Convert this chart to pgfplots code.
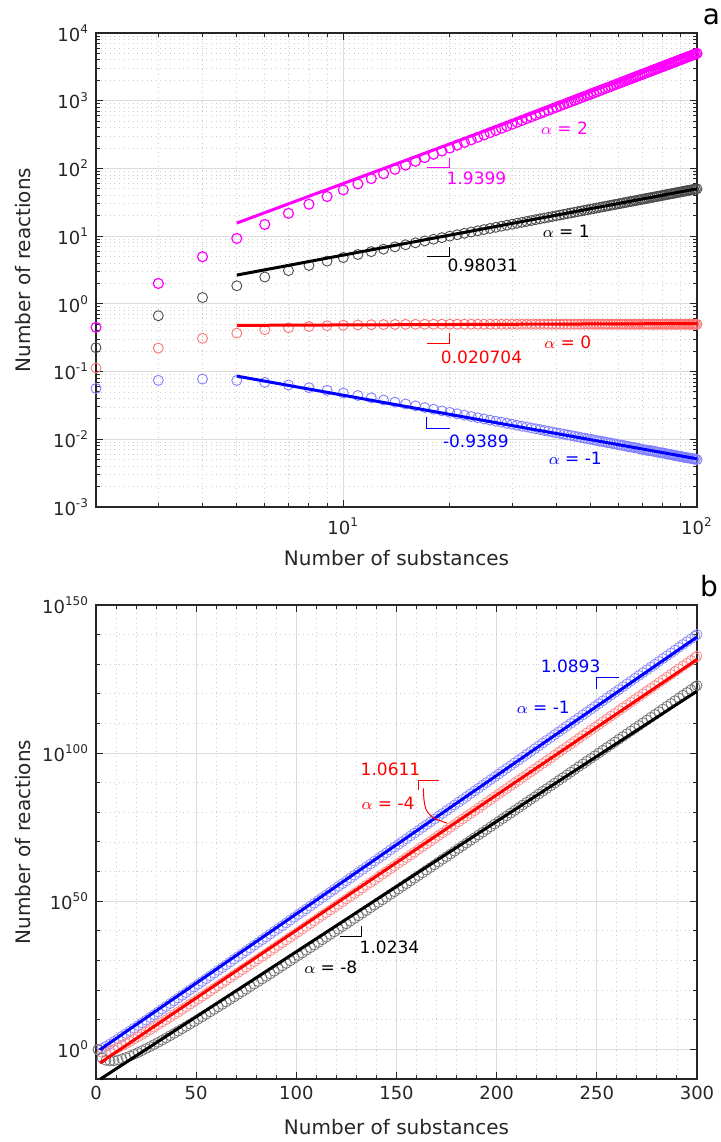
\documentclass[border=0pt]{standalone}
\usepackage{fontspec}
\setmainfont{DejaVu Sans}
\usepackage{pgfplots}
\usepackage{pgfplotstable}
\pgfplotsset{compat=1.18}

\definecolor{axcol}{HTML}{262626}
\definecolor{gridmaj}{HTML}{DCDCDC}
\definecolor{gridmin}{HTML}{CDCDCD}
\definecolor{mag}{rgb}{1,0,1}
\definecolor{mblue}{rgb}{0,0,1}
\definecolor{mred}{rgb}{1,0,0}
\newcommand\annot{\fontsize{8.5}{10}\selectfont}

% panel a: reactions vs substances, four alphas
\pgfplotstableread{
n a2 a1 a0 am1
2 0.45 0.225 0.113 0.0563
3 2.0 0.667 0.222 0.0742
4 4.96 1.24 0.31 0.0775
5 9.25 1.85 0.37 0.074
6 14.9 2.49 0.415 0.0692
7 21.7 3.10 0.443 0.0633
8 29.6 3.70 0.463 0.0578
9 38.5 4.28 0.475 0.0528
10 48.2 4.83 0.483 0.0483
11 59.0 5.36 0.488 0.0443
12 70.8 5.90 0.492 0.0410
13 83.5 6.42 0.494 0.0380
14 97.2 6.94 0.496 0.0354
15 111.9 7.46 0.498 0.0332
16 127.6 7.98 0.499 0.0312
17 144.5 8.5 0.5 0.0294
18 162 9 0.5 0.0278
19 180.5 9.5 0.5 0.0263
20 200 10 0.5 0.025
21 220.5 10.5 0.5 0.0238
22 242 11 0.5 0.0227
23 264.5 11.5 0.5 0.0217
24 288 12 0.5 0.0208
25 312.5 12.5 0.5 0.02
26 338 13 0.5 0.0192
27 364.5 13.5 0.5 0.0185
28 392 14 0.5 0.0179
29 420.5 14.5 0.5 0.0172
30 450 15 0.5 0.0167
31 480.5 15.5 0.5 0.0161
32 512 16 0.5 0.0156
33 544.5 16.5 0.5 0.0152
34 578 17 0.5 0.0147
35 612.5 17.5 0.5 0.0143
36 648 18 0.5 0.0139
37 684.5 18.5 0.5 0.0135
38 722 19 0.5 0.0132
39 760.5 19.5 0.5 0.0128
40 800 20 0.5 0.0125
41 840.5 20.5 0.5 0.0122
42 882 21 0.5 0.0119
43 924.5 21.5 0.5 0.0116
44 968 22 0.5 0.0114
45 1012.5 22.5 0.5 0.0111
46 1058 23 0.5 0.0109
47 1104.5 23.5 0.5 0.0106
48 1152 24 0.5 0.0104
49 1200.5 24.5 0.5 0.0102
50 1250 25 0.5 0.01
51 1300.5 25.5 0.5 0.0098
52 1352 26 0.5 0.0096
53 1404.5 26.5 0.5 0.0094
54 1458 27 0.5 0.0093
55 1512.5 27.5 0.5 0.0091
56 1568 28 0.5 0.0089
57 1624.5 28.5 0.5 0.0088
58 1682 29 0.5 0.0086
59 1740.5 29.5 0.5 0.0085
60 1800 30 0.5 0.0083
61 1860.5 30.5 0.5 0.0082
62 1922 31 0.5 0.0081
63 1984.5 31.5 0.5 0.0079
64 2048 32 0.5 0.0078
65 2112.5 32.5 0.5 0.0077
66 2178 33 0.5 0.0076
67 2244.5 33.5 0.5 0.0075
68 2312 34 0.5 0.0074
69 2380.5 34.5 0.5 0.0072
70 2450 35 0.5 0.0071
71 2520.5 35.5 0.5 0.0070
72 2592 36 0.5 0.0069
73 2664.5 36.5 0.5 0.0068
74 2738 37 0.5 0.0068
75 2812.5 37.5 0.5 0.0067
76 2888 38 0.5 0.0066
77 2964.5 38.5 0.5 0.0065
78 3042 39 0.5 0.0064
79 3120.5 39.5 0.5 0.0063
80 3200 40 0.5 0.0063
81 3280.5 40.5 0.5 0.0062
82 3362 41 0.5 0.0061
83 3444.5 41.5 0.5 0.0060
84 3528 42 0.5 0.0060
85 3612.5 42.5 0.5 0.0059
86 3698 43 0.5 0.0058
87 3784.5 43.5 0.5 0.0057
88 3872 44 0.5 0.0057
89 3960.5 44.5 0.5 0.0056
90 4050 45 0.5 0.0056
91 4140.5 45.5 0.5 0.0055
92 4232 46 0.5 0.0054
93 4324.5 46.5 0.5 0.0054
94 4418 47 0.5 0.0053
95 4512.5 47.5 0.5 0.0053
96 4608 48 0.5 0.0052
97 4704.5 48.5 0.5 0.0052
98 4802 49 0.5 0.0051
99 4900.5 49.5 0.5 0.0051
100 5000 50 0.5 0.005
}\topdata

% panel b: alpha = -1, -4, -8
\pgfplotstableread{
n bl rd bk
1 6.71e-1 9.5e-1 9.5e-1
3 2.01e0 1.05e-1 1.3e-3
5 1.09e1 1.23e-1 1.97e-4
7 7.0e1 2.88e-1 1.2e-4
9 4.9e2 9.5e-1 1.45e-4
11 3.61e3 3.83e0 2.61e-4
13 2.75e4 1.77e1 6.18e-4
15 2.14e5 8.95e1 1.77e-3
17 1.7e6 4.89e2 5.86e-3
19 1.37e7 2.82e3 2.16e-2
21 1.11e8 1.7e4 8.75e-2
23 9.16e8 1.06e5 3.8e-1
25 7.59e9 6.85e5 1.76e0
27 6.32e10 4.54e6 8.53e0
29 5.3e11 3.07e7 4.34e1
31 4.46e12 2.11e8 2.29e2
33 3.78e13 1.48e9 1.25e3
35 3.2e14 1.05e10 7.01e3
37 2.72e15 7.6e10 4.06e4
39 2.33e16 5.53e11 2.39e5
41 1.99e17 4.08e12 1.45e6
43 1.71e18 3.03e13 8.87e6
45 1.47e19 2.28e14 5.56e7
47 1.27e20 1.72e15 3.53e8
49 1.09e21 1.31e16 2.28e9
51 9.46e21 1.01e17 1.49e10
53 8.18e22 7.76e17 9.84e10
55 7.1e23 6.03e18 6.58e11
57 6.17e24 4.7e19 4.46e12
59 5.36e25 3.69e20 3.04e13
61 4.67e26 2.9e21 2.1e14
63 4.06e27 2.3e22 1.46e15
65 3.55e28 1.82e23 1.02e16
67 3.1e29 1.46e24 7.21e16
69 2.71e30 1.16e25 5.14e17
71 2.37e31 9.33e25 3.67e18
73 2.07e32 7.53e26 2.65e19
75 1.82e33 6.08e27 1.92e20
77 1.59e34 4.92e28 1.4e21
79 1.4e35 4e29 1.03e22
81 1.22e36 3.26e30 7.57e22
83 1.08e37 2.66e31 5.6e23
85 9.46e37 2.18e32 4.17e24
87 8.32e38 1.78e33 3.11e25
89 7.31e39 1.47e34 2.34e26
91 6.44e40 1.21e35 1.76e27
93 5.68e41 9.95e35 1.33e28
95 5e42 8.24e36 1.01e29
97 4.41e43 6.81e37 7.69e29
99 3.88e44 5.65e38 5.89e30
101 3.43e45 4.7e39 4.52e31
103 3.03e46 3.91e40 3.48e32
105 2.67e47 3.26e41 2.68e33
107 2.36e48 2.72e42 2.07e34
109 2.08e49 2.28e43 1.61e35
111 1.84e50 1.9e44 1.25e36
113 1.63e51 1.59e45 9.77e36
115 1.44e52 1.34e46 7.64e37
117 1.27e53 1.12e47 5.98e38
119 1.13e54 9.44e47 4.71e39
121 9.98e54 7.94e48 3.71e40
123 8.83e55 6.7e49 2.93e41
125 7.82e56 5.65e50 2.32e42
127 6.92e57 4.78e51 1.84e43
129 6.14e58 4.04e52 1.46e44
131 5.43e59 3.42e53 1.16e45
133 4.82e60 2.89e54 9.25e45
135 4.28e61 2.45e55 7.4e46
137 3.79e62 2.08e56 5.92e47
139 3.37e63 1.77e57 4.74e48
141 2.99e64 1.5e58 3.8e49
143 2.65e65 1.28e59 3.06e50
145 2.35e66 1.09e60 2.46e51
147 2.08e67 9.27e60 1.99e52
149 1.85e68 7.91e61 1.6e53
151 1.64e69 6.75e62 1.3e54
153 1.46e70 5.77e63 1.05e55
155 1.3e71 4.92e64 8.53e55
157 1.15e72 4.21e65 6.93e56
159 1.03e73 3.61e66 5.64e57
161 9.12e73 3.08e67 4.59e58
163 8.09e74 2.64e68 3.74e59
165 7.19e75 2.26e69 3.05e60
167 6.4e76 1.94e70 2.49e61
169 5.69e77 1.67e71 2.04e62
171 5.07e78 1.43e72 1.67e63
173 4.51e79 1.23e73 1.37e64
175 4.01e80 1.06e74 1.13e65
177 3.56e81 9.08e74 9.25e65
179 3.18e82 7.82e75 7.6e66
181 2.82e83 6.73e76 6.27e67
183 2.52e84 5.79e77 5.16e68
185 2.24e85 4.99e78 4.27e69
187 2e86 4.31e79 3.52e70
189 1.77e87 3.72e80 2.91e71
191 1.58e88 3.21e81 2.41e72
193 1.41e89 2.77e82 1.99e73
195 1.25e90 2.39e83 1.65e74
197 1.12e91 2.07e84 1.37e75
199 9.95e91 1.78e85 1.14e76
201 8.87e92 1.54e86 9.46e76
203 7.91e93 1.33e87 7.85e77
205 7.05e94 1.15e88 6.53e78
207 6.28e95 1e89 5.45e79
209 5.6e96 8.67e89 4.54e80
211 4.99e97 7.5e90 3.78e81
213 4.45e98 6.5e91 3.16e82
215 3.96e99 5.64e92 2.64e83
217 3.54e100 4.89e93 2.2e84
219 3.16e101 4.25e94 1.85e85
221 2.81e102 3.68e95 1.54e86
223 2.51e103 3.2e96 1.29e87
225 2.24e104 2.77e97 1.08e88
227 2e105 2.41e98 9.08e88
229 1.78e106 2.09e99 7.62e89
231 1.59e107 1.82e100 6.4e90
233 1.42e108 1.58e101 5.37e91
235 1.26e109 1.38e102 4.51e92
237 1.13e110 1.2e103 3.8e93
239 1.01e111 1.04e104 3.19e94
241 9e111 9.08e104 2.69e95
243 8.04e112 7.91e105 2.26e96
245 7.16e113 6.89e106 1.91e97
247 6.4e114 6e107 1.61e98
249 5.71e115 5.22e108 1.36e99
251 5.09e116 4.55e109 1.15e100
253 4.55e117 3.97e110 9.7e100
255 4.06e118 3.47e111 8.2e101
257 3.63e119 3.02e112 6.93e102
259 3.24e120 2.64e113 5.86e103
261 2.9e121 2.3e114 4.97e104
263 2.59e122 2.01e115 4.2e105
265 2.31e123 1.75e116 3.56e106
267 2.07e124 1.53e117 3.01e107
269 1.85e125 1.34e118 2.55e108
271 1.65e126 1.17e119 2.17e109
273 1.47e127 1.02e120 1.84e110
275 1.32e128 8.93e120 1.56e111
277 1.17e129 7.8e121 1.32e112
279 1.05e130 6.82e122 1.13e113
281 9.38e130 5.97e123 9.57e113
283 8.38e131 5.22e124 8.15e114
285 7.48e132 4.57e125 6.93e115
287 6.7e133 4e126 5.89e116
289 5.98e134 3.5e127 5.02e117
291 5.35e135 3.06e128 4.28e118
293 4.78e136 2.69e129 3.64e119
295 4.28e137 2.35e130 3.1e120
297 3.82e138 2.06e131 2.64e121
299 3.41e139 1.8e132 2.25e122
300 1.02e140 5.35e132 6.59e122
}\botdata

\pgfplotsset{
  mlab/.style={
    scale only axis, width=300.5pt, height=237pt,
    clip=false, clip marker paths=true,
    grid=both,
    major grid style={gridmaj, line width=0.5pt},
    minor grid style={gridmin, line width=0.45pt, dash pattern=on 0.5pt off 1.8pt},
    tick align=inside, major tick length=3.3pt, minor tick length=2pt,
    axis line style={axcol, line width=0.6pt},
    every tick/.append style={axcol, line width=0.5pt},
    tick label style={font=\fontsize{9}{10}\selectfont, text=axcol},
    label style={font=\fontsize{10}{12}\selectfont, text=axcol},
    ylabel style={at={(axis description cs:-0.121,0.5)}, anchor=center},
    ylabel={Number of reactions},
    xlabel={Number of substances},
  },
  dots/.style={only marks, mark=o, mark size=2.5pt, mark options={line width=0.45pt}},
  fit/.style={no marks, line width=1.5pt},
  leg/.style={line width=0.5pt},
}

\begin{document}
\begin{tikzpicture}
\useasboundingbox (0,0) rectangle (360pt,571pt);

\begin{axis}[mlab,
  at={(48pt,317.5pt)}, anchor=south west,
  xmode=log, ymode=log,
  xmin=2, xmax=100, ymin=1e-3, ymax=1e4,
  xtick={10,100}, xticklabels={10\textsuperscript{1},10\textsuperscript{2}},
  xticklabel style={yshift=-2pt},
  minor xtick={3,4,5,6,7,8,9,20,30,40,50,60,70,80,90},
  ytick={1e-3,1e-2,1e-1,1,10,100,1000,10000},
  yticklabels={10\textsuperscript{-3},10\textsuperscript{-2},10\textsuperscript{-1},10\textsuperscript{0},10\textsuperscript{1},10\textsuperscript{2},10\textsuperscript{3},10\textsuperscript{4}},
  minor ytick={2e-3,3e-3,4e-3,5e-3,6e-3,7e-3,8e-3,9e-3,2e-2,3e-2,4e-2,5e-2,6e-2,7e-2,8e-2,9e-2,0.2,0.3,0.4,0.5,0.6,0.7,0.8,0.9,2,3,4,5,6,7,8,9,20,30,40,50,60,70,80,90,200,300,400,500,600,700,800,900,2000,3000,4000,5000,6000,7000,8000,9000},
  xlabel style={at={(axis description cs:0.5,-0.1076)}, anchor=center},
]
\addplot[dots, mag, mark options={line width=0.6pt}] table[x=n,y=a2] {\topdata};
\addplot[dots, black!70] table[x=n,y=a1] {\topdata};
\addplot[dots, mred!55] table[x=n,y=a0] {\topdata};
\addplot[dots, mblue!50] table[x=n,y=am1] {\topdata};

\addplot[fit, mag] coordinates {(5,15.6) (100,5212)};
\addplot[fit, black] coordinates {(5,2.66) (100,50.1)};
\addplot[fit, mred] coordinates {(5,0.481) (100,0.512)};
\addplot[fit, mblue] coordinates {(5,0.0857) (100,0.00515)};

\addplot[leg, mag] coordinates {(17.2,102) (20,102) (20,141)};
\addplot[leg, black] coordinates {(17.2,5.08) (20,5.08) (20,6.97)};
\addplot[leg, mred] coordinates {(17.2,0.261) (20,0.261) (20,0.366)};
\addplot[leg, mblue] coordinates {(17.2,0.0211) (17.2,0.0145) (20,0.0145)};

\node[mag, font=\annot] at (axis cs:23.8,72.1) {1.9399};
\node[black, font=\annot] at (axis cs:24.8,3.74) {0.98031};
\node[mred, font=\annot] at (axis cs:24.6,0.162) {0.020704};
\node[mblue, font=\annot] at (axis cs:23.7,0.00918) {-0.9389};
\node[mag, font=\annot] at (axis cs:42.2,391) {$\alpha$ = 2};
\node[black, font=\annot] at (axis cs:42.7,11.6) {$\alpha$ = 1};
\node[mred, font=\annot] at (axis cs:43.1,0.275) {$\alpha$ = 0};
\node[mblue, font=\annot] at (axis cs:45.3,0.00522) {$\alpha$ = -1};
\end{axis}

\begin{axis}[mlab,
  at={(48pt,31.5pt)}, anchor=south west,
  ymode=log,
  xmin=0, xmax=300, ymin=1e-10, ymax=1e150,
  xtick={0,50,100,150,200,250,300},
  xticklabels={0,50,100,150,200,250,300},
  minor x tick num=4,
  ytick={1,1e50,1e100,1e150},
  yticklabels={10\textsuperscript{0},10\textsuperscript{50},10\textsuperscript{100},10\textsuperscript{150}},
  minor ytick={1e-10,1e10,1e20,1e30,1e40,1e60,1e70,1e80,1e90,1e110,1e120,1e130,1e140},
  xlabel style={at={(axis description cs:0.5,-0.101)}, anchor=center},
]
\addplot[dots, mblue!45, mark options={line width=0.4pt}] table[x=n,y=bl] {\botdata};
\addplot[dots, mred!45, mark options={line width=0.4pt}] table[x=n,y=rd] {\botdata};
\addplot[dots, black!55, mark options={line width=0.4pt}] table[x=n,y=bk] {\botdata};

\addplot[fit, mblue] coordinates {(2,7.94e-1) (300,1.58e139)};
\addplot[fit, mred] coordinates {(2,2.51e-5) (300,3.98e131)};
\addplot[fit, black] coordinates {(2.23,1e-10) (300,7.94e120)};

\addplot[leg, mblue] coordinates {(250,6.31e121) (250,2.51e125) (261,2.51e125)};
\addplot[leg, mred] coordinates {(160.9,2.51e87) (160.9,7.94e90) (171.4,7.94e90)};
\addplot[leg, mred, smooth] coordinates {(163.4,1.26e88) (163.8,6.31e83) (165.1,3.16e80) (168.4,1.58e78) (175.1,2.51e76)};
\addplot[leg, black] coordinates {(121.8,1.26e38) (132.6,1.26e38) (132.6,6.31e41)};

\node[mblue, font=\annot] at (axis cs:236.9,2e129) {1.0893};
\node[mblue, font=\annot] at (axis cs:223.3,3.16e115) {$\alpha$ = -1};
\node[mred, font=\annot] at (axis cs:147,3.16e94) {1.0611};
\node[mred, font=\annot] at (axis cs:145.8,1.26e83) {$\alpha$ = -4};
\node[black, font=\annot] at (axis cs:146.5,2.51e34) {1.0234};
\node[black, font=\annot] at (axis cs:117.2,5.01e27) {$\alpha$ = -8};
\end{axis}

\node[anchor=base, font=\fontsize{14}{14}\selectfont] at (355.7pt,558.5pt) {a};
\node[anchor=base, font=\fontsize{14}{14}\selectfont] at (354.5pt,272.7pt) {b};
\end{tikzpicture}
\end{document}
